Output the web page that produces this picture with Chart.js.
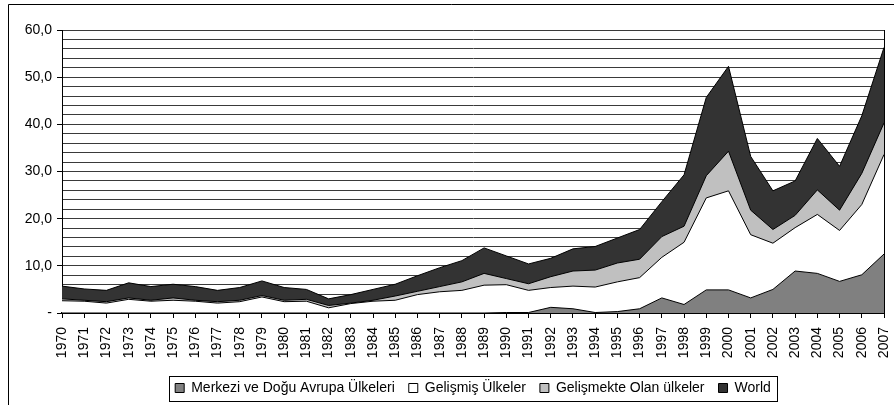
<!DOCTYPE html>
<html lang="tr">
<head>
  <meta charset="UTF-8">
  <title>Grafik</title>
  <script src="https://cdn.jsdelivr.net/npm/chart.js"></script>
  <style>
    body { margin: 0; background: #fff; }
    #wrap { width: 894px; height: 405px; position: relative; }
  </style>
</head>
<body>
  <div id="wrap"><canvas id="myChart"></canvas></div>
  <script>
    const years = [];
    for (let y = 1970; y <= 2007; y++) years.push(String(y));

    // top edge of each area
    const merkezi = [0,0,0,0,0,0,0,0,0,0, 0,0,0,0,0,0,0,0,0,0,
      0.1,0.1,1.2,0.9,0.1,0.3,0.9,3.2,1.8,4.9, 4.9,3.2,5.0,8.9,8.4,6.7,8.1,12.5];
    const gelismis = [2.6,2.5,2.1,2.9,2.5,2.7,2.5,2.1,2.4,3.4, 2.4,2.5,1.1,2.0,2.5,2.7,3.9,4.5,4.8,5.9,
      6.0,4.8,5.4,5.7,5.5,6.6,7.5,11.8,15.0,24.4, 25.9,16.6,14.8,18.1,20.9,17.5,23.0,33.6];
    const gelismekte = [3.0,2.7,2.4,3.2,2.7,3.2,2.7,2.4,2.7,3.7, 2.7,2.9,1.6,2.1,2.7,3.6,4.6,5.6,6.6,8.4,
      7.3,6.2,7.7,8.9,9.1,10.6,11.4,16.2,18.4,29.1, 34.3,21.8,17.7,20.7,26.1,21.8,29.6,40.3];
    const world = [5.7,5.1,4.8,6.4,5.6,6.1,5.6,4.8,5.4,6.8, 5.4,5.0,3.0,3.9,5.0,6.1,7.9,9.6,11.1,13.8,
      12.1,10.4,11.6,13.6,14.1,15.9,17.7,23.6,29.3,45.7, 52.3,33.2,25.9,28.0,37.0,31.1,41.8,56.3];

    const seriesNames = ['Merkezi ve Doğu Avrupa Ülkeleri', 'Gelişmiş Ülkeler', 'Gelişmekte Olan ülkeler', 'World'];
    const seriesColors = ['#808080', '#ffffff', '#c0c0c0', '#333333'];
    const yLabels = { 0: '-', 10: '10,0', 20: '20,0', 30: '30,0', 40: '40,0', 50: '50,0', 60: '60,0' };

    const font = { family: "'Liberation Sans', Arial, sans-serif", size: 14 };

    const frame = {
      id: 'frame',
      afterDraw(chart) {
        const c = chart.ctx;
        c.save();
        c.strokeStyle = '#000';
        c.lineWidth = 1;
        c.beginPath();
        c.moveTo(8.5, 405); c.lineTo(8.5, 4.5); c.lineTo(894, 4.5);
        c.stroke();
        const hb = chart.legend.legendHitBoxes;
        if (hb && hb.length) {
          const l = Math.min(...hb.map(h => h.left)) - 6;
          const r = Math.max(...hb.map(h => h.left + h.width)) + 6;
          const t = hb[0].top - 5;
          const b = hb[0].top + hb[0].height + 6;
          c.strokeRect(Math.round(l) + 0.5, Math.round(t) + 0.5, Math.round(r - l), Math.round(b - t));
        }
        c.restore();
      }
    };

    const ctx = document.getElementById('myChart');
    new Chart(ctx, {
      type: 'line',
      data: {
        labels: years,
        datasets: [merkezi, gelismis, gelismekte, world].map((d, i) => ({
          label: seriesNames[i],
          data: d,
          fill: 'origin',
          backgroundColor: seriesColors[i],
          borderColor: '#000',
          borderWidth: 1,
          pointRadius: 0,
          tension: 0
        }))
      },
      options: {
        responsive: true,
        maintainAspectRatio: false,
        animation: false,
        layout: { padding: { left: 8, right: 10, top: 30, bottom: 0 } },
        plugins: {
          tooltip: { enabled: false },
          legend: {
            position: 'bottom',
            fullSize: false,
            labels: {
              color: '#000',
              font: font,
              boxWidth: 9,
              boxHeight: 9,
              padding: 14
            }
          }
        },
        scales: {
          x: {
            offset: false,
            afterFit: s => { s.height = 54; s.paddingLeft = 0; s.paddingRight = 0; },
            border: { color: '#000', width: 2 },
            grid: {
              drawOnChartArea: true,
              color: c => c.index === years.length - 1 ? '#000' : 'rgba(0,0,0,0)',
              tickColor: '#000',
              tickLength: 5
            },
            ticks: {
              color: '#000',
              font: font,
              minRotation: 90,
              maxRotation: 90,
              autoSkip: false,
              padding: 9
            }
          },
          y: {
            min: 0,
            max: 60,
            afterFit: s => { s.width = 54; s.paddingTop = 0; s.paddingBottom = 0; },
            border: { color: '#000', width: 1 },
            grid: {
              color: '#3a3a3a',
              tickColor: c => (c.tick && c.tick.value % 10 === 0) ? '#000' : 'rgba(0,0,0,0)',
              tickLength: 5
            },
            ticks: {
              stepSize: 2,
              color: '#000',
              font: font,
              padding: 5,
              autoSkip: false,
              callback: v => (v in yLabels) ? yLabels[v] : ''
            }
          }
        }
      },
      plugins: [frame]
    });
  </script>
</body>
</html>
